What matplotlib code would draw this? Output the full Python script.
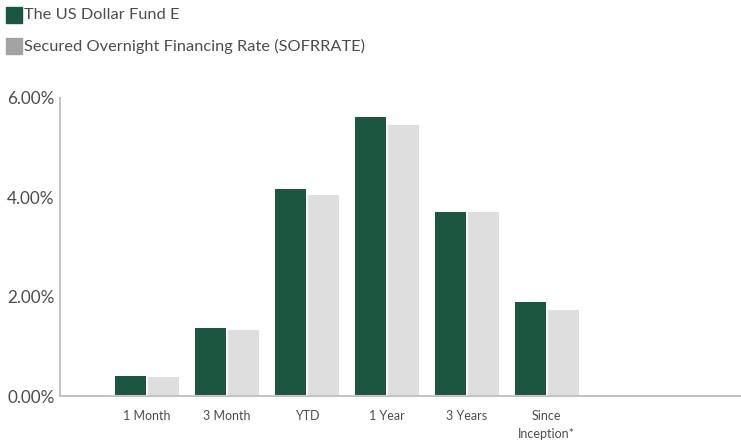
import numpy as np
import matplotlib
matplotlib.use("Agg")
import matplotlib.pyplot as plt
from matplotlib.patches import Rectangle

matplotlib.rcParams['font.family'] = ['Lato', 'DejaVu Sans']

categories = ['1 Month', '3 Month', 'YTD', '1 Year', '3 Years', 'Since\nInception*']
fund = [0.40, 1.37, 4.17, 5.61, 3.70, 1.89]
sofr = [0.39, 1.33, 4.04, 5.45, 3.70, 1.73]
series_names = ['The US Dollar Fund E', 'Secured Overnight Financing Rate (SOFRRATE)']

green = '#1b5640'
grey_bar = '#dedede'
grey_legend = '#a3a3a3'
text_col = '#4d4d4d'

fig = plt.figure(figsize=(7.41, 4.41), dpi=100)
ax = fig.add_axes([0.081, 0.102, 0.919, 0.676])

x = np.arange(len(categories))
w = 0.39
ax.bar(x - w / 2 - 0.01, fund, w, color=green)
ax.bar(x + w / 2 + 0.01, sofr, w, color=grey_bar)

ax.set_xlim(-1.09, 7.43)
ax.set_ylim(0, 6)
ax.set_yticks([0, 2, 4, 6])
ax.set_yticklabels(['0.00%', '2.00%', '4.00%', '6.00%'], fontsize=12.3, color=text_col)
ax.set_xticks(x)
ax.set_xticklabels(categories, fontsize=9, color=text_col, linespacing=1.6)
ax.tick_params(axis='x', length=0, pad=10)
ax.tick_params(axis='y', length=0, pad=4)

for s in ['top', 'right']:
    ax.spines[s].set_visible(False)
for s in ['left', 'bottom']:
    ax.spines[s].set_color('#c4c4c4')
    ax.spines[s].set_linewidth(1.5)

# legend drawn at the top left
for i, (name, col) in enumerate(zip(series_names, [green, grey_legend])):
    yc = 1 - (15 + 31 * i) / 441
    fig.add_artist(Rectangle((6 / 741, yc - 7.5 / 441), 16 / 741, 15 / 441,
                             transform=fig.transFigure, color=col))
    fig.text(24 / 741, yc, name, fontsize=11.8, color=text_col, va='center', ha='left')

fig.savefig('out.png', dpi=100)
